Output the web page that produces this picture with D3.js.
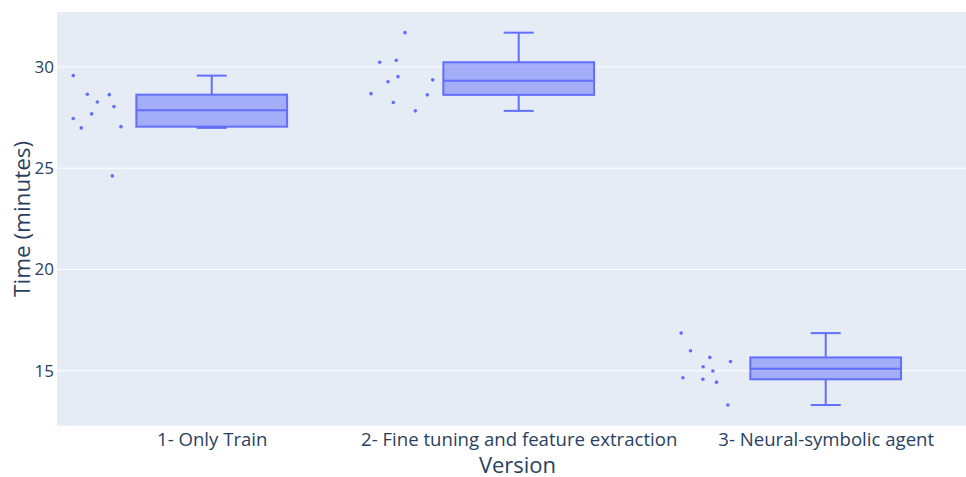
<!DOCTYPE html>
<html>
<head>
<meta charset="utf-8">
<script src="https://cdn.jsdelivr.net/npm/d3@7/dist/d3.min.js"></script>
<style>
  html, body { margin: 0; padding: 0; background: #fff; }
  svg { display: block; font-family: "Open Sans", "Noto Sans", sans-serif; }
</style>
</head>
<body>
<svg id="chart" width="966" height="477"></svg>
<script>
// Run times (minutes) for each version of the agent
const versions = [
  "1- Only Train",
  "2- Fine tuning and feature extraction",
  "3- Neural-symbolic agent"
];
const onlyTrain = [29.57, 28.65, 28.63, 28.27, 28.04, 27.68, 27.45, 26.99, 27.05, 24.62];
const fineTuning = [31.69, 30.23, 30.33, 29.52, 29.27, 29.36, 28.68, 28.62, 28.24, 27.83];
const neuralSymbolic = [16.86, 15.99, 15.66, 15.46, 15.20, 14.99, 14.66, 14.58, 14.44, 13.31];
const yTicks = [15, 20, 25, 30];
const xTitle = "Version";
const yTitle = "Time (minutes)";

const series = [onlyTrain, fineTuning, neuralSymbolic];

// Horizontal scatter of the sample points beside each box, in box half-widths
const jitter = [
  [-0.337, -0.151, 0.141, -0.018, 0.203, -0.093, -0.337, -0.231, 0.296, 0.181],
  [-0.009, -0.345, -0.124, -0.102, -0.235, 0.359, -0.460, 0.287, -0.164, 0.128],
  [-0.418, -0.294, -0.037, 0.237, -0.126, 0.003, -0.395, -0.130, 0.051, 0.202]
];
const pointPos = -1.5;

// Layout
const plot = { left: 57, right: 966, top: 12, bottom: 425.7 };
const colour = "#636efa";
const ink = "#2a3f5f";

const svg = d3.select("#chart");

// Quantile with half-sample offset interpolation
function interp(sorted, q) {
  const f = q * sorted.length - 0.5;
  if (f < 0) return sorted[0];
  if (f > sorted.length - 1) return sorted[sorted.length - 1];
  const lo = Math.floor(f), hi = Math.ceil(f), t = f - lo;
  return (1 - t) * sorted[lo] + t * sorted[hi];
}

function boxStats(values) {
  const s = values.slice().sort(d3.ascending);
  const q1 = interp(s, 0.25), med = interp(s, 0.5), q3 = interp(s, 0.75);
  const iqr = q3 - q1;
  const lf = q1 - 1.5 * iqr, uf = q3 + 1.5 * iqr;
  const lo = d3.min(s.filter(v => v >= lf));
  const hi = d3.max(s.filter(v => v <= uf));
  return { q1, med, q3, lo, hi };
}

const all = series.flat();
const [vmin, vmax] = d3.extent(all);
const pad = (vmax - vmin) * 0.0555;

const y = d3.scaleLinear()
  .domain([vmin - pad, vmax + pad])
  .range([plot.bottom, plot.top]);

// Category positions on a continuous index axis
const x = d3.scaleLinear()
  .domain([-0.504, 2.457])
  .range([plot.left, plot.right]);

const unit = x(1) - x(0);
const halfBox = unit * 0.2455;
const capHalf = 15;

// Background
svg.append("rect")
  .attr("x", plot.left).attr("y", plot.top)
  .attr("width", plot.right - plot.left).attr("height", plot.bottom - plot.top)
  .attr("fill", "#E5ECF6");

// Gridlines
svg.append("g").selectAll("line").data(yTicks).join("line")
  .attr("x1", plot.left).attr("x2", plot.right)
  .attr("y1", d => y(d)).attr("y2", d => y(d))
  .attr("stroke", "#fff").attr("stroke-width", 1);

// Y axis tick labels
const yAxis = d3.axisLeft(y).tickValues(yTicks).tickSize(0).tickPadding(3);
const gy = svg.append("g").attr("transform", `translate(${plot.left},0)`).call(yAxis);
gy.select(".domain").remove();
gy.selectAll("text")
  .attr("fill", ink).attr("font-size", 17)
  .attr("font-family", "'Open Sans', sans-serif");

// X axis tick labels
const xAxis = d3.axisBottom(x).tickValues(d3.range(versions.length))
  .tickFormat(i => versions[i]).tickSize(0).tickPadding(6.6);
const gx = svg.append("g").attr("transform", `translate(0,${plot.bottom})`).call(xAxis);
gx.select(".domain").remove();
gx.selectAll("text")
  .attr("fill", ink).attr("font-size", 18.6)
  .attr("font-family", "'Open Sans', sans-serif");

// Boxes
const boxes = svg.append("g");
series.forEach((vals, i) => {
  const st = boxStats(vals);
  const cx = x(i);
  const g = boxes.append("g");
  g.append("rect")
    .attr("x", cx - halfBox).attr("width", 2 * halfBox)
    .attr("y", y(st.q3)).attr("height", y(st.q1) - y(st.q3))
    .attr("fill", "rgba(99,110,250,0.5)")
    .attr("stroke", colour).attr("stroke-width", 2);
  g.append("line")
    .attr("x1", cx - halfBox).attr("x2", cx + halfBox)
    .attr("y1", y(st.med)).attr("y2", y(st.med))
    .attr("stroke", colour).attr("stroke-width", 2);
  // whiskers and caps
  [[st.q3, st.hi], [st.q1, st.lo]].forEach(([a, b]) => {
    g.append("line")
      .attr("x1", cx).attr("x2", cx)
      .attr("y1", y(a)).attr("y2", y(b))
      .attr("stroke", colour).attr("stroke-width", 2);
    g.append("line")
      .attr("x1", cx - capHalf).attr("x2", cx + capHalf)
      .attr("y1", y(b)).attr("y2", y(b))
      .attr("stroke", colour).attr("stroke-width", 2);
  });
  // sample points
  g.append("g").selectAll("circle").data(vals).join("circle")
    .attr("cx", (d, k) => cx + (pointPos + jitter[i][k]) * halfBox)
    .attr("cy", d => y(d))
    .attr("r", 1.8)
    .attr("fill", colour);
});

// Axis titles
svg.append("text")
  .attr("x", 517.5)
  .attr("y", 472.5)
  .attr("text-anchor", "middle")
  .attr("fill", ink).attr("font-size", 22)
  .text(xTitle);

svg.append("text")
  .attr("transform", `translate(29.5,${(plot.top + plot.bottom) / 2}) rotate(-90)`)
  .attr("text-anchor", "middle")
  .attr("fill", ink).attr("font-size", 22.5)
  .text(yTitle);
</script>
</body>
</html>
